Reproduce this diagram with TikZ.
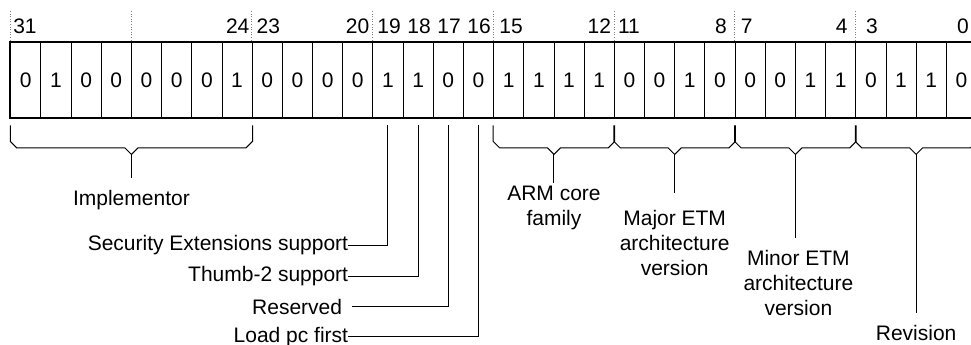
\documentclass[tikz,border=0pt]{standalone}
\usepackage{fontspec}
\setmainfont{Liberation Sans}
\usetikzlibrary{positioning,calc}

% brace under a run of cells: #1 first cell, #2 last cell, #3 name of the tip
\newcommand{\fieldbrace}[3]{%
  \coordinate (#3-l) at ([yshift=-30.2pt]#1.south west);
  \coordinate (#3-r) at ([yshift=-30.2pt]#2.south east);
  \coordinate (#3-m) at ($(#3-l)!.5!(#3-r)$);
  \coordinate (#3-tip) at ([yshift=-6.5pt]#3-m);
  \draw[brace] ([yshift=-7.7pt]#1.south west) -- ([yshift=6.5pt]#3-l) -- ([xshift=6.5pt]#3-l)
    -- ([xshift=-6.5pt]#3-m) -- (#3-tip) -- ([xshift=6.5pt]#3-m)
    -- ([xshift=-6.5pt]#3-r) -- ([yshift=6.5pt]#3-r) -- ([yshift=-7.7pt]#2.south east);
}

\begin{document}
\begin{tikzpicture}[
  x=1pt, y=-1pt,
  every node/.style={font=\fontsize{21}{25}\selectfont},
  cell/.style={draw, line width=0.8pt, minimum width=30.18pt, minimum height=74.6pt, inner sep=0pt},
  bitno/.style={anchor=base, inner sep=0pt},
  lbl/.style={inner sep=0pt, align=center},
  wire/.style={line width=1pt},
  brace/.style={line width=1pt, line join=miter},
  guide/.style={dotted, gray, line width=0.6pt}
]
\useasboundingbox (0,0) rectangle (971,345);

% register cells, bit 31 first
\foreach \v [count=\i from 0] in {0,1,0,0,0,0,0,1,0,0,0,0,1,1,0,0,1,1,1,1,0,0,1,0,0,0,1,1,0,1,1,0} {
  \pgfmathtruncatemacro{\b}{31-\i}
  \node[cell] (c\b) at ({25.79+30.18*\i},80) {\v};
}
\draw[line width=2pt] (c31.north west) rectangle (c0.south east);

% nibble guides and bit numbers
\foreach \b in {31,27,23,19,15,11,7,3}
  \draw[guide] ([yshift=2pt]c\b.north west) -- ++(0,-31);
\foreach \n/\x in {31/25, 24/237.7, 23/268.3, 20/357.5, 19/389, 18/419, 17/449, 16/479,
                   15/511, 12/599.3, 11/629, 8/721, 7/746.7, 4/841.7, 3/872, 0/963}
  \node[bitno] (n\n) at (\x,33.3) {\n};

% fields
\fieldbrace{c31}{c24}{impl}
\fieldbrace{c15}{c12}{fam}
\fieldbrace{c11}{c8}{maj}
\fieldbrace{c7}{c4}{min}
\fieldbrace{c3}{c0}{rev}

\draw[wire] (impl-tip) -- ++(0,24) coordinate (impl-end);
\node[lbl, below=12pt of impl-end] (impl) {Implementor};
\draw[wire] (fam-tip) -- ++(0,29) coordinate (fam-end);
\node[lbl, below=2pt of fam-end] (fam) {ARM core\\family};
\draw[wire] (maj-tip) -- ++(0,39) coordinate (maj-end);
\node[lbl, below=17pt of maj-end] (maj) {Major ETM\\architecture\\version};
\draw[wire] (min-tip) -- ++(0,84) coordinate (min-end);
\node[lbl, below=12pt of min-end, xshift=3pt] (min) {Minor ETM\\architecture\\version};
\draw[wire] (rev-tip) -- ++(0,159) coordinate (rev-end);
\node[lbl, below=12pt of rev-end] (rev) {Revision};

% single bits
\node[lbl, anchor=east] (sec) at (348.3,245.5) {Security Extensions support};
\node[lbl, anchor=east] (thumb) at (348.3,276) {Thumb-2 support};
\node[lbl, anchor=east, inner xsep=9.4pt] (rsvd) at (351.7,306.7) {Reserved};
\node[lbl, anchor=east] (ldpc) at (348.3,336.7) {Load pc first};

\draw[wire] ([yshift=-7.7pt]c19.south) |- (sec.east);
\draw[wire] ([yshift=-7.7pt]c18.south) |- (thumb.east);
\draw[wire] ([yshift=-7.7pt]c17.south) |- (rsvd.east);
\draw[wire] ([yshift=-7.7pt]c16.south) |- (ldpc.east);

\end{tikzpicture}
\end{document}
